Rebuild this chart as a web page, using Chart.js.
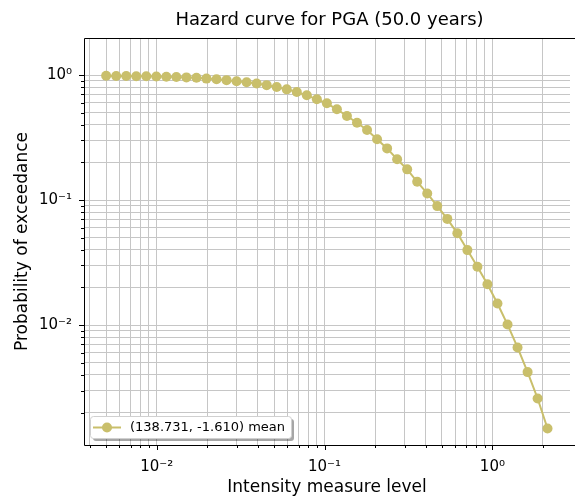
<!DOCTYPE html>
<html>
<head>
<meta charset="utf-8">
<script src="https://cdn.jsdelivr.net/npm/chart.js@4/dist/chart.umd.min.js"></script>
<style>
  html, body { margin: 0; padding: 0; background: #fff; overflow: hidden; }
  #wrap { width: 575px; height: 500px; }
</style>
</head>
<body>
<div id="wrap"><canvas id="hazard-chart"></canvas></div>
<script>
// Niveis de intensidade (PGA, g)
const imls = [0.005, 0.005738, 0.006585, 0.007556, 0.008671, 0.009951, 0.01142, 0.0131, 0.01504,
  0.01726, 0.0198, 0.02273, 0.02608, 0.02993, 0.03435, 0.03941, 0.04523, 0.0519, 0.05956,
  0.06835, 0.07844, 0.09002, 0.1033, 0.1185, 0.136, 0.1561, 0.1792, 0.2056, 0.2359, 0.2707,
  0.3107, 0.3565, 0.4092, 0.4695, 0.5388, 0.6184, 0.7096, 0.8143, 0.9345, 1.072, 1.231,
  1.412, 1.621, 1.86, 2.13];

// Probabilidade de excedencia (curva media)
const poes = [0.985, 0.983, 0.981, 0.979, 0.976, 0.972, 0.968, 0.963, 0.957, 0.950,
  0.936, 0.925, 0.910, 0.893, 0.874, 0.854, 0.830, 0.803, 0.768, 0.731,
  0.688, 0.639, 0.594, 0.532, 0.470, 0.415, 0.363, 0.306, 0.259, 0.212,
  0.176, 0.140, 0.113, 0.0895, 0.0707, 0.0542, 0.0398, 0.0293, 0.0212, 0.0149,
  0.0101, 0.00663, 0.00421, 0.00259, 0.00149];

const seriesLabel = '(138.731, -1.610) mean';
const chartTitle = 'Hazard curve for PGA (50.0 years)';
const xTitle = 'Intensity measure level';
const yTitle = 'Probability of exceedance';

// decadas que recebem rotulo
const xLabelDecades = [-2, -1, 0];
const yLabelDecades = [-2, -1, 0];

const lineColor = '#c9bf6b';
const gridColor = '#c6c6c6';
const fontFamily = "'DejaVu Sans', sans-serif";

const supDigits = { '-': '⁻', '0': '⁰', '1': '¹', '2': '²', '3': '³', '4': '⁴', '5': '⁵', '6': '⁶', '7': '⁷', '8': '⁸', '9': '⁹' };

function powLabel(exp) {
    return '10' + String(exp).split('').map(c => supDigits[c]).join('');
}

function decadeOf(v) {
    const e = Math.round(Math.log10(v));
    return Math.abs(v / Math.pow(10, e) - 1) < 1e-6 ? e : null;
}

// ticks 1..9 x 10^e dentro do intervalo do eixo
function logTicks(scale) {
    const ticks = [];
    const lo = Math.floor(Math.log10(scale.min));
    const hi = Math.ceil(Math.log10(scale.max));
    for (let e = lo; e <= hi; e++) {
        for (let s = 1; s <= 9; s++) {
            const v = parseFloat((s * Math.pow(10, e)).toPrecision(6));
            if (v >= scale.min && v <= scale.max) ticks.push({ value: v, major: s === 1 });
        }
    }
    scale.ticks = ticks;
}

// titulo, espinhas, marcas dos ticks e legenda dentro da area
const framePlugin = {
    id: 'frame',
    afterDraw(chart) {
        const { ctx, chartArea: a, scales } = chart;
        ctx.save();

        // titulo centrado sobre os eixos (que passam um pouco da borda direita)
        ctx.fillStyle = '#000';
        ctx.font = '18px ' + fontFamily;
        ctx.textAlign = 'center';
        ctx.textBaseline = 'middle';
        ctx.fillText(chartTitle, (a.left + a.right) / 2 + 2.5, 20);

        ctx.strokeStyle = '#000';
        ctx.lineWidth = 1;

        // ticks
        ctx.beginPath();
        scales.x.ticks.forEach(t => {
            const px = Math.round(scales.x.getPixelForValue(t.value)) + 0.5;
            const len = decadeOf(t.value) !== null ? 5 : 3;
            ctx.moveTo(px, a.bottom);
            ctx.lineTo(px, a.bottom + len);
        });
        scales.y.ticks.forEach(t => {
            const py = Math.round(scales.y.getPixelForValue(t.value)) + 0.5;
            const len = decadeOf(t.value) !== null ? 5 : 3;
            ctx.moveTo(a.left, py);
            ctx.lineTo(a.left - len, py);
        });
        ctx.stroke();

        // espinhas esquerda, topo e base (a direita fica fora da imagem)
        const L = Math.round(a.left) + 0.5, T = Math.round(a.top) + 0.5, B = Math.round(a.bottom) + 0.5;
        ctx.beginPath();
        ctx.moveTo(a.right + 5, T);
        ctx.lineTo(L, T);
        ctx.lineTo(L, B);
        ctx.lineTo(a.right + 5, B);
        ctx.stroke();

        // legenda
        const bx = a.left + 6, by = a.bottom - 29, bw = 201, bh = 22;
        ctx.fillStyle = 'rgba(0,0,0,0.35)';
        ctx.beginPath();
        ctx.roundRect(bx + 3, by + 3, bw, bh, 3);
        ctx.fill();
        ctx.fillStyle = '#fff';
        ctx.strokeStyle = '#d0d0d0';
        ctx.beginPath();
        ctx.roundRect(bx + 0.5, by + 0.5, bw, bh, 3);
        ctx.fill();
        ctx.stroke();

        const ly = by + bh / 2 + 0.5;
        ctx.strokeStyle = lineColor;
        ctx.lineWidth = 2;
        ctx.beginPath();
        ctx.moveTo(bx + 3, ly);
        ctx.lineTo(bx + 31, ly);
        ctx.stroke();
        ctx.fillStyle = lineColor;
        ctx.beginPath();
        ctx.arc(bx + 17, ly, 5, 0, Math.PI * 2);
        ctx.fill();

        ctx.fillStyle = '#000';
        ctx.font = '13px ' + fontFamily;
        ctx.textBaseline = 'middle';
        ctx.textAlign = 'left';
        ctx.fillText(chart.data.datasets[0].label, bx + 40, ly);
        ctx.restore();
    }
};

const ctx = document.getElementById('hazard-chart').getContext('2d');
const myChart = new Chart(ctx, {
    type: 'line',
    data: {
        datasets: [{
            label: seriesLabel,
            data: imls.map((x, i) => ({ x: x, y: poes[i] })),
            borderColor: lineColor,
            backgroundColor: lineColor,
            borderWidth: 2,
            pointRadius: 5,
            pointBorderWidth: 0,
            pointBackgroundColor: lineColor,
            tension: 0,
            fill: false
        }]
    },
    options: {
        responsive: true,
        maintainAspectRatio: false,
        animation: false,
        layout: { padding: { left: 0, right: 0, top: 38, bottom: 0 } },
        scales: {
            x: {
                type: 'logarithmic',
                min: 0.00369,
                max: 2.9,
                bounds: 'data',
                afterBuildTicks: logTicks,
                afterFit: scale => { scale.height = 55; },
                border: { display: false },
                grid: { color: gridColor, lineWidth: 1, drawTicks: false },
                ticks: {
                    autoSkip: false,
                    maxRotation: 0,
                    padding: 13,
                    color: '#000',
                    font: { family: fontFamily, size: 15 },
                    callback: v => {
                        const e = decadeOf(v);
                        return e !== null && xLabelDecades.includes(e) ? powLabel(e) : '';
                    }
                },
                title: {
                    display: true,
                    text: xTitle,
                    color: '#000',
                    font: { family: fontFamily, size: 17, lineHeight: 1.2 },
                    padding: { top: 0, bottom: 2 }
                }
            },
            y: {
                type: 'logarithmic',
                min: 0.0011,
                max: 1.977,
                bounds: 'data',
                afterBuildTicks: logTicks,
                afterFit: scale => { scale.width = 84; },
                border: { display: false },
                grid: { color: gridColor, lineWidth: 1, drawTicks: false },
                ticks: {
                    autoSkip: false,
                    padding: 12,
                    color: '#000',
                    font: { family: fontFamily, size: 15 },
                    callback: v => {
                        const e = decadeOf(v);
                        return e !== null && yLabelDecades.includes(e) ? powLabel(e) : '';
                    }
                },
                title: {
                    display: true,
                    text: yTitle,
                    color: '#000',
                    font: { family: fontFamily, size: 17, lineHeight: 1.2 },
                    padding: { top: 12, bottom: 0 }
                }
            }
        },
        plugins: {
            legend: { display: false },
            tooltip: { enabled: false },
            title: { display: false }
        }
    },
    plugins: [framePlugin]
});
</script>
</body>
</html>
